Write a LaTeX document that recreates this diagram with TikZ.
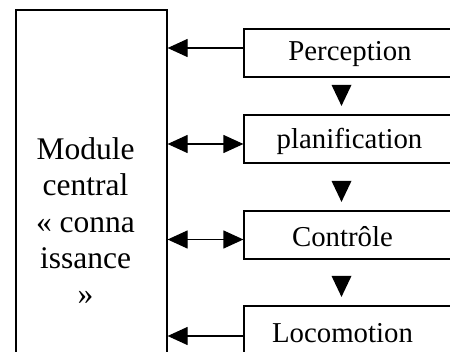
\documentclass[tikz,border=0pt]{standalone}
\usepackage{fontspec}
\setmainfont{Liberation Serif}
\usetikzlibrary{arrows.meta,calc}
\begin{document}
\begin{tikzpicture}[x=1pt,y=-1pt,
  box/.style={draw, line width=1.2pt, rectangle, inner sep=0pt},
  rbox/.style={box, minimum width=216pt, minimum height=48pt},
  rlbl/.style={font=\fontsize{28.8}{34}\selectfont, anchor=base, inner sep=0pt},
  conn/.style={line width=1.2pt},
  hd/.style={-{Triangle[length=20pt,width=18pt]}},
  hdd/.style={{Triangle[length=20pt,width=18pt]}-{Triangle[length=20pt,width=18pt]}},
  dn/.style={fill=black}]
\useasboundingbox (0,0) rectangle (450,352);
% central module
\node[box, minimum width=151pt, minimum height=352pt] (central) at (91.5,186) {};
\node[font=\fontsize{31.5}{36.3}\selectfont, align=center, anchor=north, inner sep=0pt] (ctext) at (85.5,137.5)
  {Module\\central\\« conna\\issance\\»};
% right boxes
\node[rbox] (perc) at (352,53) {};
\node[rbox] (plan) at (352,139) {};
\node[rbox] (ctrl) at (352,235) {};
\node[rbox] (loco) at (352,330) {};
\node[rlbl] (tperc) at (350,61) {Perception};
\node[rlbl] (tplan) at (349.5,148.5) {planification};
\node[rlbl] (tctrl) at (342.5,247) {Contrôle};
\node[rlbl] (tloco) at (342.5,343) {Locomotion};
% horizontal connectors
\draw[conn,hd] ([yshift=5pt]perc.west) -- ([yshift=5pt]perc.west -| central.east);
\draw[conn,hdd] ([yshift=-5pt]plan.west -| central.east) -- ([yshift=-5pt]plan.west);
\draw[conn,hdd] ([yshift=-4.5pt]ctrl.west -| central.east) -- ([yshift=-4.5pt]ctrl.west);
\draw[conn,hd] ([yshift=-6pt]loco.west) -- ([yshift=-6pt]loco.west -| central.east);
% vertical arrowheads between boxes
\coordinate (vx) at (341.5,0);
\foreach \b in {plan,ctrl,loco}{
  \fill[dn] ($(\b.north -| vx)+(-10,-29.5)$) -- ($(\b.north -| vx)+(10,-29.5)$)
    -- ($(\b.north -| vx)+(0,-8.5)$) -- cycle;
}
\end{tikzpicture}
\end{document}
